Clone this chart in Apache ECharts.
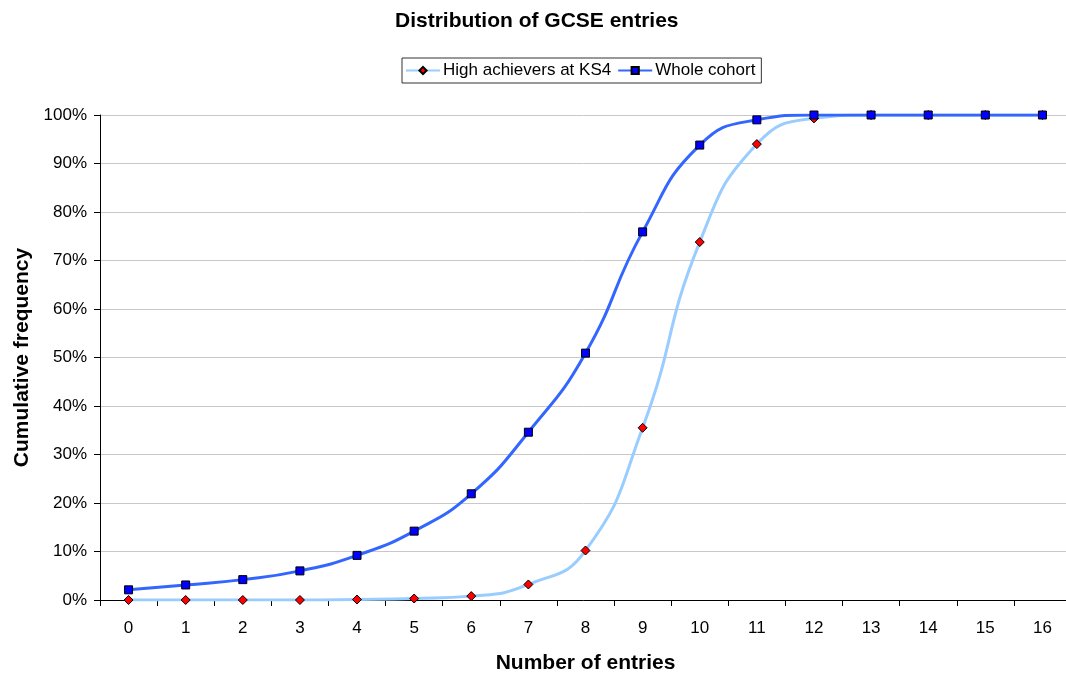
<!DOCTYPE html>
<html>
<head>
<meta charset="utf-8">
<script src="https://cdn.jsdelivr.net/npm/echarts@6/dist/echarts.min.js"></script>
<style>
  html, body { margin: 0; padding: 0; background: #fff; }
  #chart { width: 1066px; height: 675px; }
</style>
</head>
<body>
<div id="chart"></div>
<script>
// Number of GCSE entries (x categories)
const entries = ['0','1','2','3','4','5','6','7','8','9','10','11','12','13','14','15','16'];

// Cumulative share of pupils (fraction of 1)
const highAchievers = [0.000, 0.000, 0.000, 0.000, 0.001, 0.003, 0.008, 0.032, 0.102, 0.355, 0.738, 0.940, 0.993, 1.000, 1.000, 1.000, 1.000];
const wholeCohort   = [0.021, 0.031, 0.042, 0.060, 0.092, 0.142, 0.219, 0.346, 0.509, 0.759, 0.938, 0.990, 1.000, 1.000, 1.000, 1.000, 1.000];

const seriesNames = ['High achievers at KS4', 'Whole cohort'];

const FONT = '"Liberation Sans", Arial, sans-serif';

const chart = echarts.init(document.getElementById('chart'), null, { renderer: 'canvas' });

chart.setOption({
  backgroundColor: '#ffffff',
  animation: false,
  title: {
    text: 'Distribution of GCSE entries',
    left: 395,
    top: 11,
    padding: 0,
    textStyle: { fontFamily: FONT, fontSize: 21, fontWeight: 'bold', color: '#000' }
  },
  legend: {
    data: seriesNames,
    left: 402,
    top: 58,
    padding: [4, 6, 4, 3],
    itemGap: 6,
    itemWidth: 34,
    itemHeight: 9,
    borderColor: '#333',
    borderWidth: 1,
    textStyle: { fontFamily: FONT, fontSize: 17, color: '#000', padding: [0, 0, 0, -2] }
  },
  grid: {
    left: 100,
    top: 115,
    width: 971,
    height: 485,
    containLabel: false,
    outerBoundsMode: 'none'
  },
  xAxis: {
    type: 'category',
    data: entries,
    boundaryGap: true,
    name: 'Number of entries',
    nameLocation: 'middle',
    nameGap: 53,
    nameTextStyle: { fontFamily: FONT, fontSize: 21, fontWeight: 'bold', color: '#000' },
    axisLine: { lineStyle: { color: '#000', width: 1 } },
    axisTick: { show: true, alignWithLabel: false, length: 6, lineStyle: { color: '#000' } },
    axisLabel: { fontFamily: FONT, fontSize: 17, color: '#000', margin: 20 },
    splitLine: { show: false }
  },
  yAxis: {
    type: 'value',
    min: 0,
    max: 1,
    interval: 0.1,
    name: 'Cumulative frequency',
    nameLocation: 'middle',
    nameGap: 66,
    nameTextStyle: { fontFamily: FONT, fontSize: 21, fontWeight: 'bold', color: '#000' },
    axisLine: { show: true, lineStyle: { color: '#000', width: 1 } },
    axisTick: { show: true, length: 6, lineStyle: { color: '#000' } },
    axisLabel: {
      fontFamily: FONT, fontSize: 17, color: '#000', margin: 13,
      formatter: v => Math.round(v * 100) + '%'
    },
    splitLine: { show: true, lineStyle: { color: '#c8c8c8', width: 1 } }
  },
  series: [
    {
      name: seriesNames[0],
      type: 'line',
      data: highAchievers,
      smooth: 0.5,
      symbol: 'diamond',
      symbolSize: 9,
      lineStyle: { color: '#99CCFF', width: 3 },
      itemStyle: { color: '#FF0000', borderColor: '#000', borderWidth: 1 },
      z: 2
    },
    {
      name: seriesNames[1],
      type: 'line',
      data: wholeCohort,
      smooth: 0.5,
      symbol: 'rect',
      symbolSize: 8,
      lineStyle: { color: '#3366FF', width: 3 },
      itemStyle: { color: '#0000FF', borderColor: '#000', borderWidth: 1 },
      z: 3
    }
  ]
});
</script>
</body>
</html>
